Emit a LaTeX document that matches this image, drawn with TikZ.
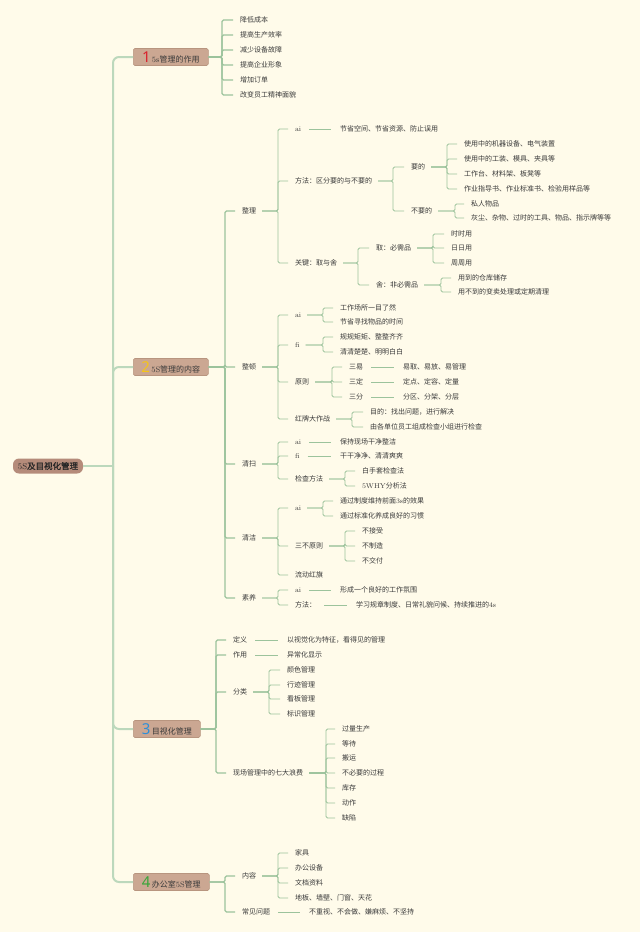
\documentclass[tikz,border=0pt]{standalone}
\usepackage{fontspec}
\newfontfamily\cjk{Noto Sans CJK SC}
\newfontfamily\cjkb[FakeBold=1.2]{Noto Sans CJK SC}
\newfontfamily\numf{Noto Sans}
\definecolor{bg}{HTML}{FFFBEA}
\definecolor{txt}{HTML}{3A3A3A}
\definecolor{boxfill}{HTML}{CBA792}
\definecolor{boxdraw}{HTML}{B8957F}
\definecolor{rootfill}{HTML}{B58B7A}
\definecolor{trunkc}{HTML}{BCD8BC}
\definecolor{linec}{HTML}{9CC39C}
\definecolor{nred}{HTML}{D9232E}
\definecolor{nyel}{HTML}{F5C518}
\definecolor{nblu}{HTML}{2E8FD8}
\definecolor{ngrn}{HTML}{3AA53A}
\newcommand\numb[2]{{\color{#1}\numf\bfseries\fontsize{15}{15}\selectfont #2}}
\tikzset{
  lf/.style={anchor=west, inner sep=0pt, outer sep=0pt, text=txt, font=\cjk\fontsize{7}{8}\selectfont},
  box/.style={anchor=west, fill=boxfill, draw=boxdraw, line width=0.6pt, rounded corners=1.5pt,
    minimum height=17pt, inner sep=2pt, text=txt, font=\cjk\fontsize{8}{9}\selectfont},
  rootbox/.style={fill=rootfill, rounded corners=6pt, minimum width=70pt, minimum height=15pt,
    inner sep=2pt, text=black!85, font=\cjkb\fontsize{8.5}{9}\selectfont},
  trunk/.style={draw=trunkc, line width=2pt, rounded corners=6pt},
  ln/.style={draw=linec, line width=0.8pt, rounded corners=1.5pt},
  lnb/.style={draw=linec, line width=1.3pt, rounded corners=1.5pt},
}
\newcommand\fork[3]{\foreach \c in {#3}{\draw[ln] ([xshift=6pt]#1.east) -- (#2 |- #1.east) |- ([xshift=-7pt]\c.west);}}
\newcommand\forkb[3]{\foreach \c in {#3}{\draw[lnb] (#1.east) -- (#2 |- #1.east) |- ([xshift=-7pt]\c.west);}}
\newcommand\one[2]{\draw[ln] ([xshift=8pt]#1.east) -- ([xshift=-9pt]#2.west);}
\begin{document}
\begin{tikzpicture}[x=1pt,y=1pt]
\fill[bg] (0,0) rectangle (640,-932);
\useasboundingbox (0,0) rectangle (640,-932);

% root and trunk
\node[rootbox] (root) at (48,-466) {\textrm{5S}及目视化管理};
\coordinate (tr) at (113,-466);
\node[box, minimum width=75pt] (b1) at (133,-57) {\numb{nred}{1}\,\textrm{5s}管理的作用};
\node[box, minimum width=75pt] (b2) at (133,-367) {\numb{nyel}{2}\,\textrm{5S}管理的内容};
\node[box, minimum width=67pt] (b3) at (133,-729) {\numb{nblu}{3}\,目视化管理};
\node[box, minimum width=76pt] (b4) at (133,-882) {\numb{ngrn}{4}\,办公室\textrm{5S}管理};
\draw[trunk] (root.east) -- (tr);
\foreach \b in {b1,b2,b3,b4}{\draw[trunk] (tr) |- (\b.west);}

% bracket x positions
\foreach \n/\x in {k1/222,k2/225,k3/216,k4/225,kzl/278,kzl2/393,kyd/447,kbyd/455,kzl3/358,kq/433,ks/441,
  kzd/278,kzd1/323,kzd2/323,kzd3/332,kzd4/352,kqs/278,kqs3/345,kqj/278,kqj1/323,kqj2/345,ksy/278,
  kfl/269,klf/326,knr/278}{\coordinate (\n) at (\x,0);}

% ---- 1
\node[lf] (a1) at (240,-20) {降低成本};
\node[lf] (a2) at (240,-35) {提高生产效率};
\node[lf] (a3) at (240,-50) {减少设备故障};
\node[lf] (a4) at (240,-65) {提高企业形象};
\node[lf] (a5) at (240,-80) {增加订单};
\node[lf] (a6) at (240,-95) {改变员工精神面貌};
\forkb{b1}{k1}{a1,a2,a3,a4,a5,a6}

% ---- 2
\node[lf] (zl) at (242,-211) {整理};
\node[lf] (zd) at (242,-367) {整顿};
\node[lf] (qs) at (242,-464) {清扫};
\node[lf] (qj) at (242,-538) {清洁};
\node[lf] (sy) at (242,-598) {素养};
\forkb{b2}{k2}{zl,zd,qs,qj,sy}

% 整理
\node[lf] (zl1) at (295,-129) {\textrm{ai}};
\node[lf] (zl1t) at (340,-129) {节省空间、节省资源、防止误用};
\node[lf] (zl2) at (295,-181) {方法：区分要的与不要的};
\node[lf] (zl3) at (295,-263) {关键：取与舍};
\fork{zl}{kzl}{zl1,zl2,zl3}
\one{zl1}{zl1t}
\node[lf] (yd) at (411,-167) {要的};
\node[lf] (byd) at (411,-211) {不要的};
\fork{zl2}{kzl2}{yd,byd}
\node[lf] (yd1) at (464,-144) {使用中的机器设备、电气装置};
\node[lf] (yd2) at (464,-159) {使用中的工装、模具、夹具等};
\node[lf] (yd3) at (464,-174) {工作台、材料架、板凳等};
\node[lf] (yd4) at (464,-189) {作业指导书、作业标准书、检验用样品等};
\fork{yd}{kyd}{yd1,yd2,yd3,yd4}
\node[lf] (byd1) at (471,-204) {私人物品};
\node[lf] (byd2) at (471,-218) {灰尘、杂物、过时的工具、物品、指示牌等等};
\fork{byd}{kbyd}{byd1,byd2}
\node[lf] (q) at (376,-248) {取：必需品};
\node[lf] (s) at (376,-285) {舍：非必需品};
\fork{zl3}{kzl3}{q,s}
\node[lf] (q1) at (451,-234) {时时用};
\node[lf] (q2) at (451,-248) {日日用};
\node[lf] (q3) at (451,-263) {周周用};
\fork{q}{kq}{q1,q2,q3}
\node[lf] (s1) at (458,-278) {用到的仓库储存};
\node[lf] (s2) at (458,-292) {用不到的变卖处理或定期清理};
\fork{s}{ks}{s1,s2}

% 整顿
\node[lf] (zd1) at (295,-315) {\textrm{ai}};
\node[lf] (zd2) at (295,-345) {\textrm{fi}};
\node[lf] (zd3) at (295,-382) {原则};
\node[lf] (zd4) at (295,-419) {红牌大作战};
\fork{zd}{kzd}{zd1,zd2,zd3,zd4}
\node[lf] (zd1a) at (340,-308) {工作场所一目了然};
\node[lf] (zd1b) at (340,-322) {节省寻找物品的时间};
\fork{zd1}{kzd1}{zd1a,zd1b}
\node[lf] (zd2a) at (340,-337) {规规矩矩、整整齐齐};
\node[lf] (zd2b) at (340,-352) {清清楚楚、明明白白};
\fork{zd2}{kzd2}{zd2a,zd2b}
\node[lf] (sy1) at (349,-367) {三易};
\node[lf] (sd1) at (349,-382) {三定};
\node[lf] (sf1) at (349,-397) {三分};
\fork{zd3}{kzd3}{sy1,sd1,sf1}
\node[lf] (sy1t) at (403,-367) {易取、易放、易管理};
\node[lf] (sd1t) at (403,-382) {定点、定容、定量};
\node[lf] (sf1t) at (403,-397) {分区、分架、分层};
\one{sy1}{sy1t}
\one{sd1}{sd1t}
\one{sf1}{sf1t}
\node[lf] (zd4a) at (370,-412) {目的：找出问题，进行解决};
\node[lf] (zd4b) at (370,-427) {由各单位员工组成检查小组进行检查};
\fork{zd4}{kzd4}{zd4a,zd4b}

% 清扫
\node[lf] (qs1) at (295,-442) {\textrm{ai}};
\node[lf] (qs2) at (295,-456) {\textrm{fi}};
\node[lf] (qs3) at (295,-479) {检查方法};
\fork{qs}{kqs}{qs1,qs2,qs3}
\node[lf] (qs1t) at (340,-442) {保持现场干净整洁};
\node[lf] (qs2t) at (340,-456) {干干净净、清清爽爽};
\one{qs1}{qs1t}
\one{qs2}{qs2t}
\node[lf] (qs3a) at (362,-471) {白手套检查法};
\node[lf] (qs3b) at (362,-486) {\textrm{5WHY}分析法};
\fork{qs3}{kqs3}{qs3a,qs3b}

% 清洁
\node[lf] (qj1) at (295,-508) {\textrm{ai}};
\node[lf] (qj2) at (295,-546) {三不原则};
\node[lf] (qj3) at (295,-575) {流动红旗};
\fork{qj}{kqj}{qj1,qj2,qj3}
\node[lf] (qj1a) at (340,-501) {通过制度维持前面\textrm{3s}的效果};
\node[lf] (qj1b) at (340,-516) {通过标准化养成良好的习惯};
\fork{qj1}{kqj1}{qj1a,qj1b}
\node[lf] (qj2a) at (362,-531) {不接受};
\node[lf] (qj2b) at (362,-546) {不制造};
\node[lf] (qj2c) at (362,-561) {不交付};
\fork{qj2}{kqj2}{qj2a,qj2b,qj2c}

% 素养
\node[lf] (sy1x) at (295,-590) {\textrm{ai}};
\node[lf] (sy2x) at (295,-605) {方法：};
\fork{sy}{ksy}{sy1x,sy2x}
\node[lf] (sy1t) at (340,-590) {形成一个良好的工作氛围};
\node[lf] (sy2t) at (356,-605) {学习规章制度、日常礼貌问候、持续推进的\textrm{4s}};
\one{sy1x}{sy1t}
\one{sy2x}{sy2t}

% ---- 3
\node[lf] (dy) at (233,-640) {定义};
\node[lf] (zy) at (233,-655) {作用};
\node[lf] (fl) at (233,-692) {分类};
\node[lf] (lf) at (233,-773) {现场管理中的七大浪费};
\forkb{b3}{k3}{dy,zy,fl,lf}
\node[lf] (dyt) at (287,-640) {以视觉化为特征，看得见的管理};
\node[lf] (zyt) at (287,-655) {异常化显示};
\one{dy}{dyt}
\one{zy}{zyt}
\node[lf] (fl1) at (287,-670) {颜色管理};
\node[lf] (fl2) at (287,-685) {行迹管理};
\node[lf] (fl3) at (287,-699) {看板管理};
\node[lf] (fl4) at (287,-714) {标识管理};
\fork{fl}{kfl}{fl1,fl2,fl3,fl4}
\node[lf] (w1) at (342,-729) {过量生产};
\node[lf] (w2) at (342,-744) {等待};
\node[lf] (w3) at (342,-758) {搬运};
\node[lf] (w4) at (342,-773) {不必要的过程};
\node[lf] (w5) at (342,-788) {库存};
\node[lf] (w6) at (342,-803) {动作};
\node[lf] (w7) at (342,-818) {缺陷};
\fork{lf}{klf}{w1,w2,w3,w4,w5,w6,w7}

% ---- 4
\node[lf] (nr) at (242,-876) {内容};
\node[lf] (wt) at (242,-912) {常见问题};
\forkb{b4}{k4}{nr,wt}
\node[lf] (nr1) at (295,-853) {家具};
\node[lf] (nr2) at (295,-868) {办公设备};
\node[lf] (nr3) at (295,-883) {文档资料};
\node[lf] (nr4) at (295,-898) {地板、墙壁、门窗、天花};
\fork{nr}{knr}{nr1,nr2,nr3,nr4}
\node[lf] (wtt) at (309,-912) {不重视、不会做、嫌麻烦、不坚持};
\one{wt}{wtt}
\end{tikzpicture}
\end{document}
